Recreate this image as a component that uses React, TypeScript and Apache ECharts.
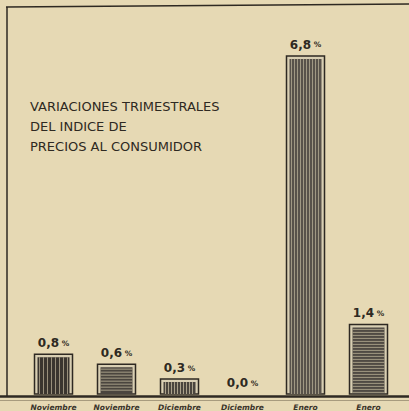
import React, { useEffect, useRef } from "react";
import * as echarts from "echarts";

const categories = ["Noviembre", "Noviembre", "Diciembre", "Diciembre", "Enero", "Enero"];
const values = [0.8, 0.6, 0.3, 0.0, 6.8, 1.4];
const valueLabels = ["0,8", "0,6", "0,3", "0,0", "6,8", "1,4"];
const titleLines = ["VARIACIONES TRIMESTRALES", "DEL INDICE DE", "PRECIOS AL CONSUMIDOR"];

// hatch styling per bar (orientation, fill, stripe colour, spacing)
const hatch = [
  { dir: "v", fill: "#3a352f", stripe: "#a39a84", gap: 4 },
  { dir: "h", fill: "#4a453e", stripe: "#b0a78f", gap: 3 },
  { dir: "v", fill: "#4a453e", stripe: "#b5ac94", gap: 3 },
  { dir: "v", fill: "#4a453e", stripe: "#b0a78f", gap: 3 },
  { dir: "v", fill: "#58524a", stripe: "#a8a08a", gap: 3 },
  { dir: "h", fill: "#4f4a43", stripe: "#aaa18a", gap: 3 },
];

const BG = "#e6d9b4";
const INK = "#2e2922";

export default function App() {
  const ref = useRef<HTMLDivElement>(null);
  useEffect(() => {
    document.body.style.margin = "0";
    const chart = echarts.init(ref.current!, null, { renderer: "svg" });
    const data = values.map((v, i) => [i, v]);
    chart.setOption({
      animation: false,
      backgroundColor: BG,
      grid: { left: 22, right: 9, top: 46, bottom: 15 },
      xAxis: {
        type: "category",
        data: categories,
        axisLine: { show: false },
        axisTick: { show: false },
        axisLabel: {
          interval: 0,
          margin: 9,
          fontSize: 7.5,
          fontStyle: "italic",
          fontWeight: "bold",
          fontFamily: "DejaVu Sans",
          color: "#3a342b",
        },
      },
      yAxis: { type: "value", min: 0, max: 7, show: false, splitLine: { show: false } },
      series: [
        {
          type: "custom",
          data,
          renderItem: (params: any, api: any) => {
            const idx = params.dataIndex;
            const cat = api.value(0);
            const v = api.value(1);
            const base = api.coord([cat, 0]);
            const top = api.coord([cat, v]);
            const w = 38;
            const x = base[0] - w / 2;
            const h = base[1] - top[1];
            const children: any[] = [];
            const st = hatch[idx];
            if (h > 1) {
              children.push({
                type: "rect",
                shape: { x, y: top[1], width: w, height: h },
                style: { fill: "#d9cfb3", stroke: INK, lineWidth: 1.5 },
              });
              const ix = x + 3, iy = top[1] + 3, iw = w - 6, ih = h - 3;
              children.push({
                type: "rect",
                shape: { x: ix, y: iy, width: iw, height: ih },
                style: { fill: st.fill },
              });
              if (st.dir === "v") {
                for (let sx = ix + 2; sx < ix + iw - 1; sx += st.gap) {
                  children.push({
                    type: "line",
                    shape: { x1: sx, y1: iy, x2: sx, y2: iy + ih },
                    style: { stroke: st.stripe, lineWidth: 0.9 },
                  });
                }
              } else {
                for (let sy = iy + 2; sy < iy + ih - 1; sy += st.gap) {
                  children.push({
                    type: "line",
                    shape: { x1: ix, y1: sy, x2: ix + iw, y2: sy },
                    style: { stroke: st.stripe, lineWidth: 0.9 },
                  });
                }
              }
            }
            children.push({
              type: "text",
              x: base[0],
              y: top[1] - 5,
              style: {
                text: "{v|" + valueLabels[idx] + "}{p| %}",
                align: "center",
                verticalAlign: "bottom",
                rich: {
                  v: { fontSize: 12, fontWeight: "bold", fontFamily: "DejaVu Sans", fill: INK },
                  p: { fontSize: 7.5, fontWeight: "bold", fontFamily: "DejaVu Sans", fill: INK },
                },
              },
            });
            return { type: "group", children };
          },
        },
      ],
      graphic: [
        { type: "line", shape: { x1: 6, y1: 7, x2: 409, y2: 4 }, style: { stroke: INK, lineWidth: 1.5 } },
        { type: "line", shape: { x1: 7, y1: 7, x2: 7, y2: 396 }, style: { stroke: INK, lineWidth: 1.5 } },
        { type: "line", shape: { x1: 0, y1: 396.5, x2: 409, y2: 396.5 }, style: { stroke: INK, lineWidth: 2.5 } },
        { type: "line", shape: { x1: 0, y1: 400.5, x2: 409, y2: 400.5 }, style: { stroke: "#a79b7e", lineWidth: 1 } },
        ...titleLines.map((t, i) => ({
          type: "text",
          left: 30,
          top: 100 + i * 20,
          style: {
            text: t,
            fontSize: 13,
            fontFamily: "DejaVu Sans",
            fill: INK,
          },
        })),
      ],
    });
    return () => chart.dispose();
  }, []);
  return <div ref={ref} style={{ width: 409, height: 411 }} />;
}
